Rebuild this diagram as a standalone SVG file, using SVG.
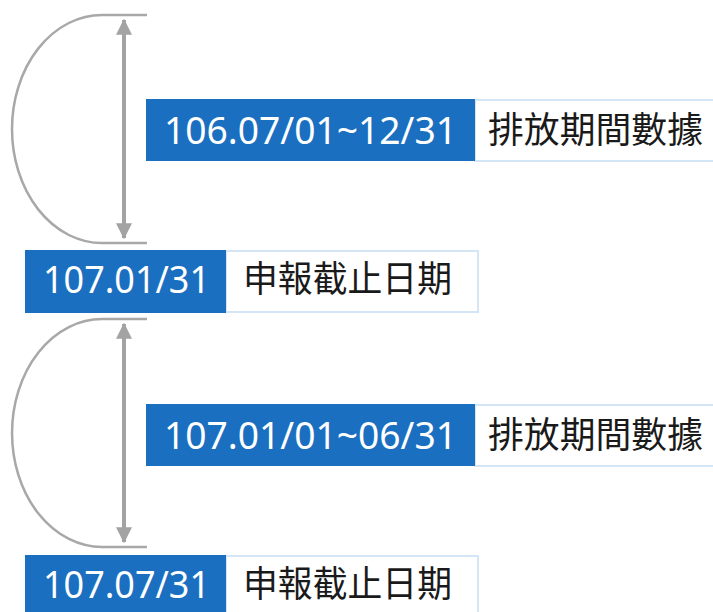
<svg xmlns="http://www.w3.org/2000/svg" width="713" height="612" viewBox="0 0 713 612">
<style>
.bg{fill:#ffffff}
.blue{fill:#1b6fc0}
.wbox{fill:#ffffff;stroke:#d4e6f6;stroke-width:2}
.num{font-family:"Noto Sans","Open Sans","Liberation Sans",sans-serif;font-size:38px;fill:#ffffff}
.cjk{font-family:"Noto Sans CJK TC","Noto Sans CJK SC",sans-serif;font-size:36px;fill:#1a1a1a}
.arc{fill:none;stroke:#a8a8a8;stroke-width:2.5}
.tick{stroke:#a8a8a8;stroke-width:2.5}
.arr{stroke:#a3a3a3;stroke-width:4}
</style>
<defs>
<marker id="ah" viewBox="0 0 12 12" refX="11" refY="6" markerWidth="4" markerHeight="4" markerUnits="strokeWidth" orient="auto-start-reverse">
<path d="M0,0 L12,6 L0,12 Z" fill="#a3a3a3"/>
</marker>
</defs>
<rect class="bg" x="0" y="0" width="713" height="612"/>
<g id="connectors">
<path class="arc" d="M102,15 A90,114 0 0 0 102,243"/>
<line class="tick" x1="102" y1="15" x2="147" y2="15"/>
<line class="tick" x1="102" y1="243" x2="147" y2="243"/>
<line class="arr" x1="124" y1="20" x2="124" y2="238" marker-start="url(#ah)" marker-end="url(#ah)"/>
<path class="arc" d="M102,319 A90,114 0 0 0 102,547"/>
<line class="tick" x1="102" y1="319" x2="147" y2="319"/>
<line class="tick" x1="102" y1="547" x2="147" y2="547"/>
<line class="arr" x1="124" y1="324" x2="124" y2="542" marker-start="url(#ah)" marker-end="url(#ah)"/>
</g>
<g id="node1">
<rect class="wbox" x="475" y="100" width="250" height="61"/>
<rect class="blue" x="146" y="99" width="329" height="62"/>
<text class="num" x="164" y="144" textLength="293" lengthAdjust="spacingAndGlyphs">106.07/01~12/31</text>
<text class="cjk" x="488" y="143" textLength="215" lengthAdjust="spacingAndGlyphs">排放期間數據</text>
</g>
<g id="node2">
<rect class="wbox" x="226" y="251" width="252" height="61"/>
<rect class="blue" x="25" y="250" width="201" height="63"/>
<text class="num" x="43" y="293" textLength="167" lengthAdjust="spacingAndGlyphs">107.01/31</text>
<text class="cjk" x="243" y="292" textLength="209" lengthAdjust="spacingAndGlyphs">申報截止日期</text>
</g>
<g id="node3">
<rect class="wbox" x="475" y="405" width="250" height="61"/>
<rect class="blue" x="146" y="404" width="329" height="62"/>
<text class="num" x="164" y="449" textLength="293" lengthAdjust="spacingAndGlyphs">107.01/01~06/31</text>
<text class="cjk" x="488" y="448" textLength="215" lengthAdjust="spacingAndGlyphs">排放期間數據</text>
</g>
<g id="node4">
<rect class="wbox" x="226" y="556" width="252" height="61"/>
<rect class="blue" x="25" y="555" width="201" height="63"/>
<text class="num" x="43" y="598" textLength="167" lengthAdjust="spacingAndGlyphs">107.07/31</text>
<text class="cjk" x="243" y="597" textLength="209" lengthAdjust="spacingAndGlyphs">申報截止日期</text>
</g>
</svg>
